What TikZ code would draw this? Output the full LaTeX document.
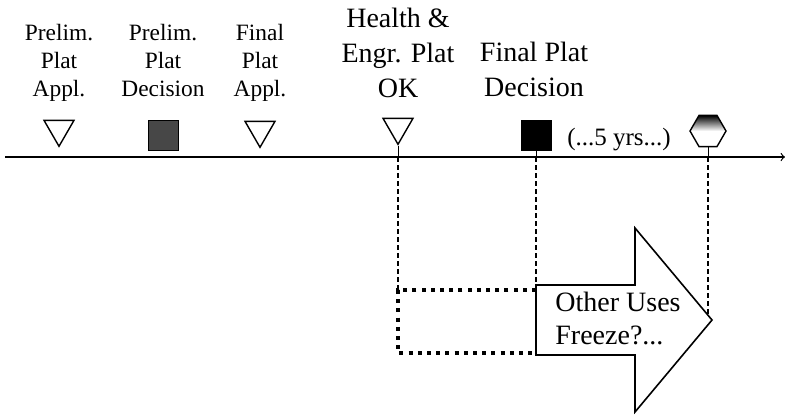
\documentclass[tikz,border=0pt]{standalone}
\usepackage{fontspec}
\setmainfont{Liberation Serif}
\usepackage{tikz}
\usetikzlibrary{arrows,shapes.geometric}
\definecolor{platgray}{rgb}{0.28,0.28,0.28}
\tikzset{every node/.append style={inner sep=0pt}}
\tikzset{small/.style={align=center,anchor=base,text height=0.7em,text depth=0pt,font=\fontsize{11.7}{14}\selectfont}}
\tikzset{big/.style={align=center,anchor=base,text height=0.7em,text depth=0pt,font=\fontsize{14}{17.5}\selectfont}}
\tikzset{tri/.style={draw,line width=0.7pt,regular polygon,regular polygon sides=3,shape border rotate=180,minimum size=17.3pt}}
\tikzset{sq/.style={draw,line width=0.5pt,minimum size=15pt}}
\tikzset{hexa/.style={draw,line width=0.7pt,regular polygon,regular polygon sides=6,minimum size=18pt,top color=black,bottom color=white,middle color=white}}
\tikzset{guide/.style={line width=0.65pt,dash pattern=on 2.5pt off 1.5pt}}

\begin{document}
\begin{tikzpicture}[x=0.5pt,y=-0.5pt]
      \useasboundingbox (0,0) rectangle (785,414);
      \node[small] at (59,96) (11) {Prelim.\\Plat\\Appl.};
      \node[small] at (163,96) (12) {Prelim.\\Plat\\Decision};
      \node[small] at (260,96) (13) {Final\\Plat\\Appl.};
      \node[big] at (398,97) (14) {Health \&\\Engr. Plat\\OK};
      \node[big] at (534,96) (15) {Final Plat\\Decision};
      \node[tri] at (59,129) (1) {};
      \node[sq, fill=platgray] at (163,135) (2) {};
      \node[tri] at (260,130) (3) {};
      \node[tri] at (398,127) (4) {};
      \node[sq, fill=black] at (536,135) (5) {};
      \node[hexa] at (708,131) (6) {};
      \node[font=\fontsize{12.5}{15}\selectfont] at (619,140) (7) {(...5 yrs...)};
      \coordinate (a0) at (5,157);
      \coordinate (a1) at (785,157);
      \coordinate (x4) at (398,157);
      \coordinate (x5) at (536,157);
      \coordinate (x6) at (708,157);
      \coordinate (r0) at (536,290);
      \coordinate (r1) at (398,290);
      \coordinate (r2) at (398,353);
      \coordinate (r3) at (536,353);
      \coordinate (b1) at (536,285);
      \coordinate (b2) at (635,285);
      \coordinate (b3) at (635,228);
      \coordinate (b4) at (712,320);
      \coordinate (b5) at (635,412);
      \coordinate (b6) at (635,355);
      \coordinate (b7) at (536,355);
      \coordinate (t6) at (708,315);
      \draw[->, line width=0.6pt] (a0)--(a1);
      \draw[line width=0.5pt] (4)--(x4);
      \draw[line width=0.5pt] (5)--(x5);
      \draw[line width=0.5pt] (6)--(x6);
      \draw[guide] (x4)--(r1);
      \draw[guide] (x5)--(b1);
      \draw[guide] (x6)--(t6);
      \draw[line width=2pt, dash pattern=on 2pt off 2.6pt] (r0)--(r1)--(r2)--(r3);
      \draw[line width=0.8pt, fill=white] (b1)--(b2)--(b3)--(b4)--(b5)--(b6)--(b7)--cycle;
      \node[align=left, anchor=west, font=\fontsize{14}{16.5}\selectfont] at (555,318) (8) {Other Uses\\Freeze?...};
    \end{tikzpicture}
\end{document}
